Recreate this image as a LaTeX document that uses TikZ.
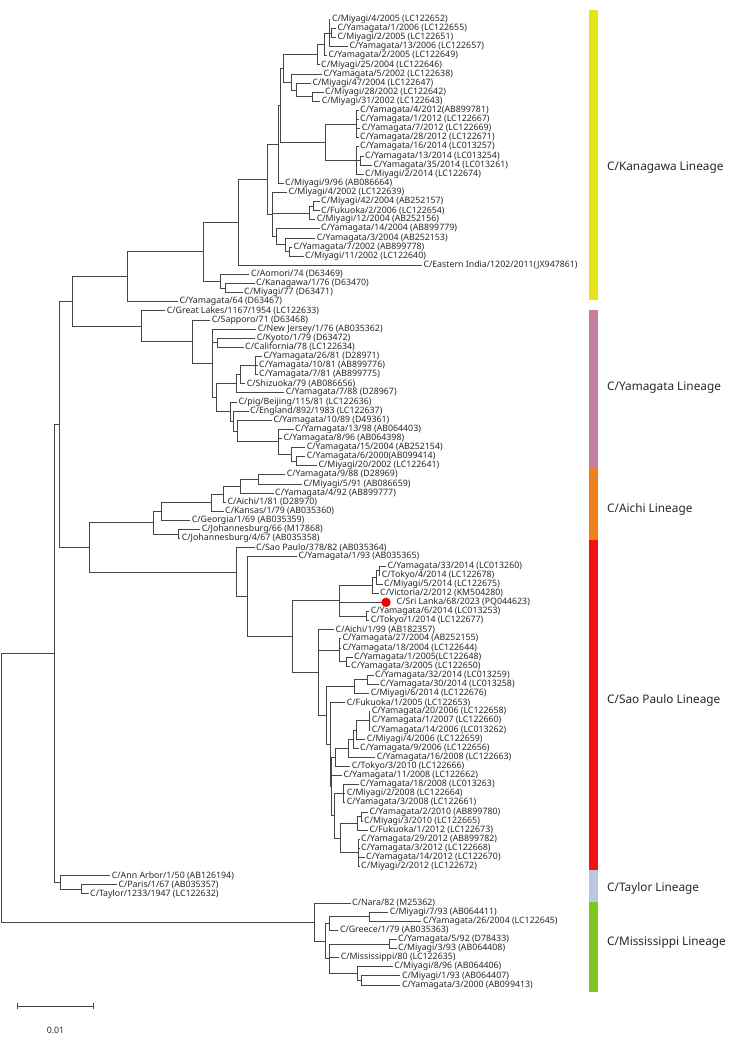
\documentclass[tikz,border=0pt]{standalone}
\usepackage{fontspec}
\setmainfont{Noto Sans}
\usetikzlibrary{calc}
\definecolor{brc}{RGB}{70,70,70}
\definecolor{txc}{RGB}{40,40,40}
\definecolor{cyel}{RGB}{228,230,26}
\definecolor{cmau}{RGB}{196,128,160}
\definecolor{cora}{RGB}{240,128,26}
\definecolor{cred}{RGB}{238,20,20}
\definecolor{cblu}{RGB}{184,200,224}
\definecolor{cgrn}{RGB}{124,200,30}
\definecolor{dotred}{RGB}{240,0,0}
\tikzset{
  br/.style={line width=0.75pt, draw=brc, line cap=rect},
  lab/.style={anchor=west, inner sep=0pt, xshift=1.8pt, font=\fontsize{8.8}{9}\selectfont, text=txc},
  lin/.style={anchor=west, inner sep=0pt, font=\fontsize{11.8}{13}\selectfont, text=txc}
}
\newcommand\leafat[4]{%
  \coordinate (#1) at (#2,{19.3+(#3-1)*9.11});
  \node[lab] (#1t) at (#1) {#4};}
\newcommand\inode[5]{%
  \path let \p1=($(#3)!0.5!(#4)$) in coordinate (#1) at (#2pt,\y1);
  \draw[br] (#1 |- #3) -- (#1 |- #4);
  \foreach \ch in {#5} {\draw[br] (#1 |- \ch) -- (\ch);}%
}
\begin{document}
\begin{tikzpicture}[x=1pt,y=-1pt]
\fill[white] (0,0) rectangle (735,1040);
\useasboundingbox (0,0) rectangle (735,1040);
% ---------------- leaves
\leafat{l1}{330}{1}{C/Miyagi/4/2005 (LC122652)}
\leafat{l2}{335.5}{2}{C/Yamagata/1/2006 (LC122655)}
\leafat{l3}{335.5}{3}{C/Miyagi/2/2005 (LC122651)}
\leafat{l4}{347.5}{4}{C/Yamagata/13/2006 (LC122657)}
\leafat{l5}{326.5}{5}{C/Yamagata/2/2005 (LC122649)}
\leafat{l6}{319.2}{6}{C/Miyagi/25/2004 (LC122646)}
\leafat{l7}{321.5}{7}{C/Yamagata/5/2002 (LC122638)}
\leafat{l8}{310.5}{8}{C/Miyagi/47/2004 (LC122647)}
\leafat{l9}{323.2}{9}{C/Miyagi/28/2002 (LC122642)}
\leafat{l10}{319.9}{10}{C/Miyagi/31/2002 (LC122643)}
\leafat{l11}{358.2}{11}{C/Yamagata/4/2012(AB899781)}
\leafat{l12}{358.2}{12}{C/Yamagata/1/2012 (LC122667)}
\leafat{l13}{359.9}{13}{C/Yamagata/7/2012 (LC122669)}
\leafat{l14}{358.2}{14}{C/Yamagata/28/2012 (LC122671)}
\leafat{l15}{358.2}{15}{C/Yamagata/16/2014 (LC013257)}
\leafat{l16}{363.2}{16}{C/Yamagata/13/2014 (LC013254)}
\leafat{l17}{371.5}{17}{C/Yamagata/35/2014 (LC013261)}
\leafat{l18}{363.2}{18}{C/Miyagi/2/2014 (LC122674)}
\leafat{l19}{283.2}{19}{C/Miyagi/9/96 (AB086664)}
\leafat{l20}{286.5}{20}{C/Miyagi/4/2002 (LC122639)}
\leafat{l21}{319.2}{21}{C/Miyagi/42/2004 (AB252157)}
\leafat{l22}{319.2}{22}{C/Fukuoka/2/2006 (LC122654)}
\leafat{l23}{314.9}{23}{C/Miyagi/12/2004 (AB252156)}
\leafat{l24}{319.2}{24}{C/Yamagata/14/2004 (AB899779)}
\leafat{l25}{314.9}{25}{C/Yamagata/3/2004 (AB252153)}
\leafat{l26}{291.5}{26}{C/Yamagata/7/2002 (AB899778)}
\leafat{l27}{303.2}{27}{C/Miyagi/11/2002 (LC122640)}
\leafat{l28}{421.5}{28}{C/Eastern India/1202/2011(JX947861)}
\leafat{l29}{249}{29}{C/Aomori/74 (D63469)}
\leafat{l30}{254.2}{30}{C/Kanagawa/1/76 (D63470)}
\leafat{l31}{242.2}{31}{C/Miyagi/77 (D63471)}
\leafat{l32}{177.5}{32}{C/Yamagata/64 (D63467)}
\leafat{l33}{164.9}{33}{C/Great Lakes/1167/1954 (LC122633)}
\leafat{l34}{209.9}{34}{C/Sapporo/71 (D63468)}
\leafat{l35}{255.9}{35}{C/New Jersey/1/76 (AB035362)}
\leafat{l36}{254.9}{36}{C/Kyoto/1/79 (D63472)}
\leafat{l37}{243.2}{37}{C/California/78 (LC122634)}
\leafat{l38}{261.5}{38}{C/Yamagata/26/81 (D28971)}
\leafat{l39}{257.2}{39}{C/Yamagata/10/81 (AB899776)}
\leafat{l40}{257.2}{40}{C/Yamagata/7/81 (AB899775)}
\leafat{l41}{244.9}{41}{C/Shizuoka/79 (AB086656)}
\leafat{l42}{283.9}{42}{C/Yamagata/7/88 (D28967)}
\leafat{l43}{236.5}{43}{C/pig/Beijing/115/81 (LC122636)}
\leafat{l44}{248.2}{44}{C/England/892/1983 (LC122637)}
\leafat{l45}{271.5}{45}{C/Yamagata/10/89 (D49361)}
\leafat{l46}{293.2}{46}{C/Yamagata/13/98 (AB064403)}
\leafat{l47}{281.5}{47}{C/Yamagata/8/96 (AB064398)}
\leafat{l48}{304.9}{48}{C/Yamagata/15/2004 (AB252154)}
\leafat{l49}{304.9}{49}{C/Yamagata/6/2000(AB099414)}
\leafat{l50}{316.5}{50}{C/Miyagi/20/2002 (LC122641)}
\leafat{l51}{284.9}{51}{C/Yamagata/9/88 (D28969)}
\leafat{l52}{301.5}{52}{C/Miyagi/5/91 (AB086659)}
\leafat{l53}{273.2}{53}{C/Yamagata/4/92 (AB899777)}
\leafat{l54}{225.5}{54}{C/Aichi/1/81 (D28970)}
\leafat{l55}{223.2}{55}{C/Kansas/1/79 (AB035360)}
\leafat{l56}{189.9}{56}{C/Georgia/1/69 (AB035359)}
\leafat{l57}{199.9}{57}{C/Johannesburg/66 (M17868)}
\leafat{l58}{179.9}{58}{C/Johannesburg/4/67 (AB035358)}
\leafat{l59}{254.2}{59}{C/Sao Paulo/378/82 (AB035364)}
\leafat{l60}{296.5}{60}{C/Yamagata/1/93 (AB035365)}
\leafat{l61}{385.5}{61}{C/Yamagata/33/2014 (LC013260)}
\leafat{l62}{379.9}{62}{C/Tokyo/4/2014 (LC122678)}
\leafat{l63}{382.2}{63}{C/Miyagi/5/2014 (LC122675)}
\leafat{l64}{378.2}{64}{C/Victoria/2/2012 (KM504280)}
\coordinate (l65) at (381.5,{19.3+64*9.11});
\node[circle, fill=dotred, inner sep=0pt, minimum size=9.4pt] (dot) at (386,{19.3+64*9.11}) {};
\node[lab] (l65t) at (394.7,{19.3+64*9.11}) {C/Sri Lanka/68/2023 (PQ044623)};
\leafat{l66}{368.9}{66}{C/Yamagata/6/2014 (LC013253)}
\leafat{l67}{368.9}{67}{C/Tokyo/1/2014 (LC122677)}
\leafat{l68}{333.7}{68}{C/Aichi/1/99 (AB182357)}
\leafat{l69}{340.5}{69}{C/Yamagata/27/2004 (AB252155)}
\leafat{l70}{340.5}{70}{C/Yamagata/18/2004 (LC122644)}
\leafat{l71}{352.2}{71}{C/Yamagata/1/2005(LC122648)}
\leafat{l72}{349.2}{72}{C/Yamagata/3/2005 (LC122650)}
\leafat{l73}{373.2}{73}{C/Yamagata/32/2014 (LC013259)}
\leafat{l74}{378.2}{74}{C/Yamagata/30/2014 (LC013258)}
\leafat{l75}{368.9}{75}{C/Miyagi/6/2014 (LC122676)}
\leafat{l76}{344.9}{76}{C/Fukuoka/1/2005 (LC122653)}
\leafat{l77}{369.9}{77}{C/Yamagata/20/2006 (LC122658)}
\leafat{l78}{369.9}{78}{C/Yamagata/1/2007 (LC122660)}
\leafat{l79}{369.9}{79}{C/Yamagata/14/2006 (LC013262)}
\leafat{l80}{364.9}{80}{C/Miyagi/4/2006 (LC122659)}
\leafat{l81}{358.2}{81}{C/Yamagata/9/2006 (LC122656)}
\leafat{l82}{374.9}{82}{C/Yamagata/16/2008 (LC122663)}
\leafat{l83}{349.9}{83}{C/Tokyo/3/2010 (LC122666)}
\leafat{l84}{341.5}{84}{C/Yamagata/11/2008 (LC122662)}
\leafat{l85}{358.2}{85}{C/Yamagata/18/2008 (LC013263)}
\leafat{l86}{344.9}{86}{C/Miyagi/2/2008 (LC122664)}
\leafat{l87}{344.9}{87}{C/Yamagata/3/2008 (LC122661)}
\leafat{l88}{367.5}{88}{C/Yamagata/2/2010 (AB899780)}
\leafat{l89}{362.2}{89}{C/Miyagi/3/2010 (LC122665)}
\leafat{l90}{367.5}{90}{C/Fukuoka/1/2012 (LC122673)}
\leafat{l91}{359.2}{91}{C/Yamagata/29/2012 (AB899782)}
\leafat{l92}{359.2}{92}{C/Yamagata/3/2012 (LC122668)}
\leafat{l93}{364.2}{93}{C/Yamagata/14/2012 (LC122670)}
\leafat{l94}{359.2}{94}{C/Miyagi/2/2012 (LC122672)}
\leafat{l95}{109.9}{95}{C/Ann Arbor/1/50 (AB126194)}
\leafat{l96}{116.5}{96}{C/Paris/1/67 (AB035357)}
\leafat{l97}{88.2}{97}{C/Taylor/1233/1947 (LC122632)}
\leafat{l98}{350.2}{98}{C/Nara/82 (M25362)}
\leafat{l99}{387.8}{99}{C/Miyagi/7/93 (AB064411)}
\leafat{l100}{421.1}{100}{C/Yamagata/26/2004 (LC122645)}
\leafat{l101}{338}{101}{C/Greece/1/79 (AB035363)}
\leafat{l102}{396.2}{102}{C/Yamagata/5/92 (D78433)}
\leafat{l103}{396.2}{103}{C/Miyagi/3/93 (AB064408)}
\leafat{l104}{338.8}{104}{C/Mississippi/80 (LC122635)}
\leafat{l105}{392.4}{105}{C/Miyagi/8/96 (AB064406)}
\leafat{l106}{400}{106}{C/Miyagi/1/93 (AB064407)}
\leafat{l107}{400}{107}{C/Yamagata/3/2000 (AB099413)}
% ---------------- Kanagawa lineage
\inode{a2}{331}{l2}{l3}{l2,l3}
\inode{a1}{329}{l1}{l4}{l1,a2,l4}
\inode{a0}{324}{a1}{l5}{a1,l5}
\inode{a00}{317}{a0}{l6}{a0,l6}
\inode{b2}{312.7}{l9}{l10}{l9,l10}
\inode{b1}{296}{l8}{b2}{l8,b2}
\inode{b0}{291.7}{l7}{b1}{l7,b1}
\inode{tg}{283.3}{a00}{b0}{a00,b0}
\inode{g1}{356.5}{l11}{l14}{l11,l12,l13,l14}
\inode{g2a}{360}{l16}{l17}{l16,l17}
\inode{g2}{356.5}{l15}{l18}{l15,g2a,l18}
\inode{g}{325}{g1}{g2}{g1,g2}
\inode{k4a}{280}{tg}{g}{tg,g}
\inode{k4}{278}{k4a}{l19}{k4a,l19}
\inode{c21}{313.3}{l21}{l22}{l21,l22}
\inode{c20}{309.3}{c21}{l23}{c21,l23}
\inode{c26}{289.3}{l26}{l27}{l26,l27}
\inode{c25}{285}{l25}{c26}{l25,c26}
\inode{c24}{276.7}{l24}{c25}{l24,c25}
\inode{k5}{272}{l20}{c24}{l20,c20,c24}
\inode{k3}{267.7}{k4}{k5}{k4,k5}
\inode{k2}{238.3}{k3}{l28}{k3,l28}
\inode{ka2}{225}{l30}{l31}{l30,l31}
\inode{ka}{220}{l29}{ka2}{l29,ka2}
\inode{k1}{203.3}{k2}{ka}{k2,ka}
\inode{k0}{127.3}{k1}{l32}{k1,l32}
% ---------------- Yamagata lineage
\inode{kc}{217.3}{l36}{l37}{l36,l37}
\inode{y6a}{255}{l38}{l40}{l38,l39,l40}
\inode{y6b}{240}{y6a}{l41}{y6a,l41}
\inode{y6}{236.7}{y6b}{l42}{y6b,l42}
\inode{y10}{296.7}{l49}{l50}{l49,l50}
\inode{y9}{291}{l48}{y10}{l48,y10}
\inode{yp}{278.3}{l46}{y9}{l46,l47,y9}
\inode{y8}{237.3}{l45}{yp}{l45,yp}
\inode{y7b}{233.3}{l44}{y8}{l44,y8}
\inode{y7}{230}{l43}{y7b}{l43,y7b}
\inode{y5}{216}{y6}{y7}{y6,y7}
\inode{y2}{212.5}{l35}{y5}{l35,kc,y5}
\inode{y1}{192.7}{l34}{y2}{l34,y2}
\inode{y0}{141.7}{l33}{y1}{l33,y1}
\inode{ky}{72.7}{k0}{y0}{k0,y0}
% ---------------- Aichi lineage
\inode{ai1}{258.3}{l51}{l52}{l51,l52}
\inode{ai2}{240}{ai1}{l53}{ai1,l53}
\inode{ai3}{223.3}{ai2}{l54}{ai2,l54}
\inode{ai4}{211.7}{ai3}{l55}{ai3,l55}
\inode{ai5}{161.7}{ai4}{l56}{ai4,l56}
\inode{jo}{178.3}{l57}{l58}{l57,l58}
\inode{ai0}{153.3}{ai5}{jo}{ai5,jo}
% ---------------- Sao Paulo lineage
\inode{s3}{379.3}{l61}{l62}{l61,l62}
\inode{s2}{376.7}{s3}{l63}{s3,l63}
\inode{s1}{372.7}{s2}{l64}{s2,l64}
\inode{s4}{366}{l66}{l67}{l66,l67}
\inode{sl}{339.3}{s1}{s4}{s1,l65,s4}
\inode{n71}{346.7}{l71}{l72}{l71,l72}
\inode{n69}{339.3}{l69}{n71}{l69,l70,n71}
\inode{n73a}{367.3}{l73}{l74}{l73,l74}
\inode{n73}{354}{n73a}{l75}{n73a,l75}
\inode{n77}{369}{l77}{l79}{l77,l78,l79}
\inode{n80}{356.7}{n77}{l80}{n77,l80}
\inode{n81}{353.3}{n80}{l81}{n80,l81}
\inode{n82}{348.3}{n81}{l82}{n81,l82}
\inode{n83}{335}{n82}{l83}{n82,l83}
\inode{n85}{343.3}{l85}{l87}{l85,l86,l87}
\inode{n88}{361}{l88}{l89}{l88,l89}
\inode{n88b}{357.3}{n88}{l90}{n88,l90}
\inode{n91}{358}{l91}{l94}{l91,l92,l93,l94}
\inode{n88c}{340}{n88b}{n91}{n88b,n91}
\inode{n85b}{334}{n85}{n88c}{n85,n88c}
\inode{q}{331.7}{n83}{n85b}{n83,l84,n85b}
\inode{z}{330}{l76}{q}{l76,q}
\inode{bgb}{326.7}{n73}{z}{n73,z}
\inode{sp3}{318.5}{l68}{bgb}{l68,n69,bgb}
\inode{sp2}{292.3}{sl}{sp3}{sl,sp3}
\inode{sp1}{247.3}{l60}{sp2}{l60,sp2}
\inode{sp0}{236.7}{l59}{sp1}{l59,sp1}
\inode{asn}{89}{ai0}{sp0}{ai0,sp0}
\inode{r2}{59}{ky}{asn}{ky,asn}
% ---------------- Taylor lineage
\inode{t1}{81.7}{l96}{l97}{l96,l97}
\inode{t0}{60}{l95}{t1}{l95,t1}
\inode{r1}{54}{r2}{t0}{r2,t0}
% ---------------- Mississippi lineage
\inode{m99}{369.3}{l99}{l100}{l99,l100}
\inode{mu}{329.1}{m99}{l101}{m99,l101}
\inode{m102}{389.6}{l102}{l103}{l102,l103}
\inode{m106}{361.7}{l106}{l107}{l106,l107}
\inode{m105}{357.8}{l105}{m106}{l105,m106}
\inode{ml}{329.1}{m102}{m105}{m102,l104,m105}
\inode{m1}{325.3}{mu}{ml}{mu,ml}
\inode{m0}{314.6}{l98}{m1}{l98,m1}
% ---------------- root
\inode{r0}{1}{r1}{m0}{r1,m0}
% ---------------- lineage bars
\fill[cyel] (589,10) rectangle (598,300);
\fill[cmau] (589,310) rectangle (598,467);
\fill[cora] (589,467) rectangle (598,540);
\fill[cred] (589,540) rectangle (598,870);
\fill[cblu] (589,870) rectangle (598,902);
\fill[cgrn] (589,902) rectangle (598,992);
\node[lin] (linK) at (607,168) {C/Kanagawa Lineage};
\node[lin] (linY) at (607,388) {C/Yamagata Lineage};
\node[lin] (linA) at (607,509) {C/Aichi Lineage};
\node[lin] (linS) at (607,700) {C/Sao Paulo Lineage};
\node[lin] (linT) at (607,888) {C/Taylor Lineage};
\node[lin] (linM) at (607,943) {C/Mississippi Lineage};
% ---------------- scale bar
\coordinate (sbl) at (17.2,1006);
\coordinate (sbr) at (93.8,1006);
\draw[br] (sbl) -- (sbr);
\draw[br] ($(sbl)+(0,-3)$) -- ($(sbl)+(0,3)$);
\draw[br] ($(sbr)+(0,-3)$) -- ($(sbr)+(0,3)$);
\node[lab, anchor=center] (sbt) at (53.7,1030) {0.01};
\end{tikzpicture}
\end{document}
